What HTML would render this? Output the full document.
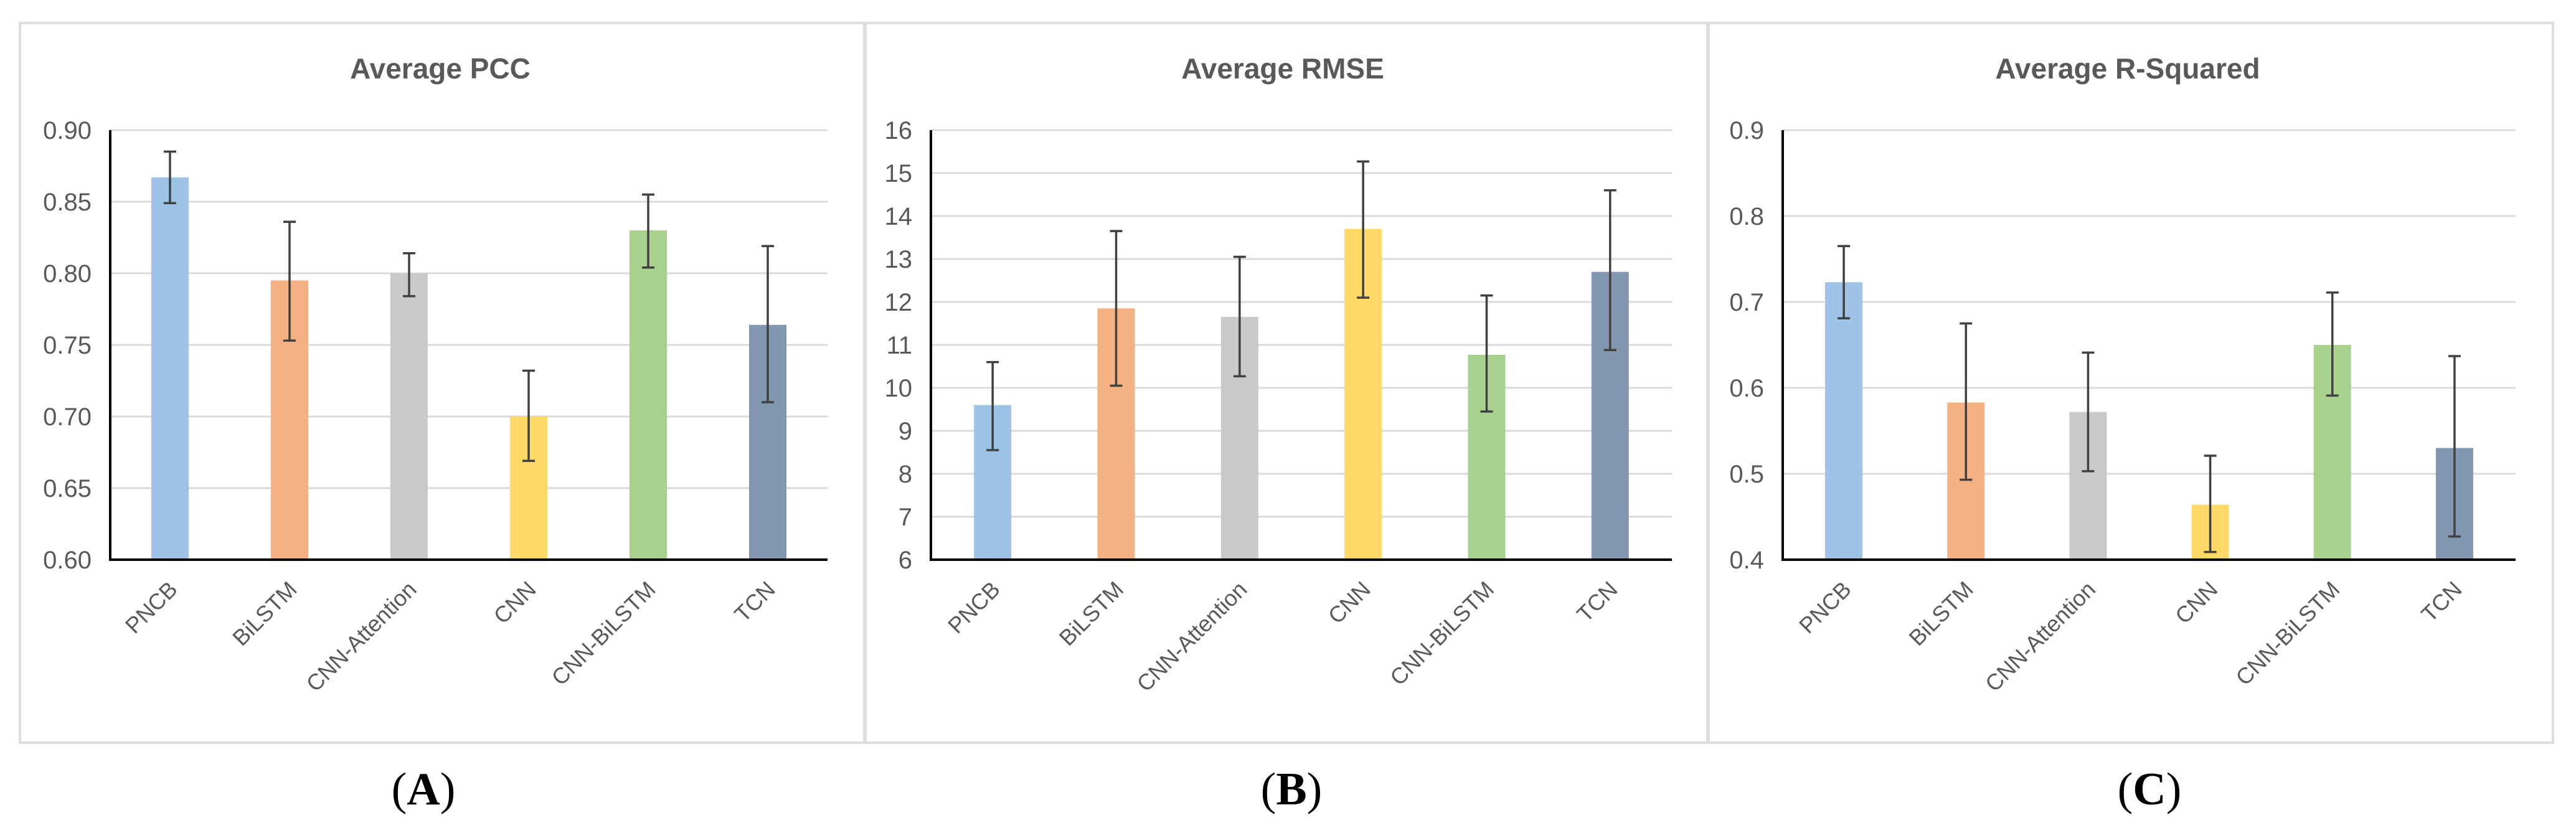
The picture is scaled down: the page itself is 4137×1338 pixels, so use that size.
<!DOCTYPE html>
<html><head><meta charset="utf-8">
<style>
html,body{margin:0;padding:0;background:#fff;}
svg{display:block;}
</style></head>
<body>
<svg id="fig" width="4137" height="1338" viewBox="0 0 4137 1338" xmlns="http://www.w3.org/2000/svg"></svg>
<script>
const categories = ["PNCB","BiLSTM","CNN-Attention","CNN","CNN-BiLSTM","TCN"];
const pccValues = [0.867,0.795,0.800,0.700,0.830,0.764];
const pccLow = [0.849,0.753,0.784,0.669,0.804,0.710];
const pccHigh = [0.885,0.836,0.814,0.732,0.855,0.819];
const pccTicks = ["0.60","0.65","0.70","0.75","0.80","0.85","0.90"];
const rmseValues = [9.6,11.85,11.65,13.7,10.77,12.7];
const rmseLow = [8.55,10.05,10.27,12.1,9.45,10.88];
const rmseHigh = [10.6,13.65,13.05,15.27,12.15,14.6];
const rmseTicks = ["6","7","8","9","10","11","12","13","14","15","16"];
const r2Values = [0.723,0.583,0.572,0.464,0.650,0.530];
const r2Low = [0.681,0.493,0.503,0.409,0.591,0.427];
const r2High = [0.765,0.675,0.641,0.521,0.711,0.637];
const r2Ticks = ["0.4","0.5","0.6","0.7","0.8","0.9"];
const colors = ["#9dc3e6","#f4b183","#c9c9c9","#ffd966","#a9d18e","#8497b0"];

const NS="http://www.w3.org/2000/svg";
const svg=document.getElementById('fig');
function mk(tag,attrs,parent){const e=document.createElementNS(NS,tag);for(const k in attrs)e.setAttribute(k,attrs[k]);(parent||svg).appendChild(e);return e;}

const panels=[
 {id:"pcc",title:"Average PCC",letter:"A",frame:[32,37,1388,1193],ax:[177,1329],min:0.60,max:0.90,ticks:pccTicks,vals:pccValues,lo:pccLow,hi:pccHigh,titleX:707,letterX:680},
 {id:"rmse",title:"Average RMSE",letter:"B",frame:[1390,37,2742,1193],ax:[1495,2685],min:6,max:16,ticks:rmseTicks,vals:rmseValues,lo:rmseLow,hi:rmseHigh,titleX:2060,letterX:2074},
 {id:"r2",title:"Average R-Squared",letter:"C",frame:[2744,37,4100,1193],ax:[2863,4040],min:0.4,max:0.9,ticks:r2Ticks,vals:r2Values,lo:r2Low,hi:r2High,titleX:3417,letterX:3452}
];
const yTop=209, yBot=899;

panels.forEach(p=>{
  const g=mk('g',{});
  
  
  const fr=mk('rect',{x:p.frame[0],y:p.frame[1],width:p.frame[2]-p.frame[0],height:p.frame[3]-p.frame[1],fill:'#fff',stroke:'#dedede','stroke-width':4},g);
  
  
  const t=mk('text',{x:p.titleX,y:126,'text-anchor':'middle','font-family':'"Liberation Sans",sans-serif','font-size':46,'font-weight':'bold',fill:'#595959'},g);
  t.textContent=p.title;
  
  
  const y=v=>yBot-(v-p.min)/(p.max-p.min)*(yBot-yTop);
  p.ticks.forEach(tk=>{
    const v=parseFloat(tk), yy=y(v);
    if(v>p.min){
      const gl=mk('line',{x1:p.ax[0],x2:p.ax[1],y1:yy,y2:yy,stroke:'#d9d9d9','stroke-width':3},g);
      
      
    }
    const tl=mk('text',{x:p.ax[0]-30,y:yy+14,'text-anchor':'end','font-family':'"Liberation Sans",sans-serif','font-size':40,fill:'#595959'},g);
    tl.textContent=tk;
    
    
  });
  const cw=(p.ax[1]-p.ax[0])/categories.length, bw=60;
  categories.forEach((c,i)=>{
    const cx=p.ax[0]+cw*(i+0.5);
    const b=mk('rect',{x:cx-bw/2,y:y(p.vals[i]),width:bw,height:yBot-y(p.vals[i]),fill:colors[i]},g);
    
    
    const eg=mk('g',{stroke:'#404040','stroke-width':3.5},g);
    
    
    mk('line',{x1:cx,x2:cx,y1:y(p.lo[i]),y2:y(p.hi[i])},eg);
    mk('line',{x1:cx-10,x2:cx+10,y1:y(p.lo[i]),y2:y(p.lo[i])},eg);
    mk('line',{x1:cx-10,x2:cx+10,y1:y(p.hi[i]),y2:y(p.hi[i])},eg);
    const xl=mk('text',{x:0,y:0,'text-anchor':'end','font-family':'"Liberation Sans",sans-serif','font-size':36,fill:'#595959',transform:`translate(${cx+14},${yBot+50}) rotate(-45)`},g);
    xl.textContent=c;
    
    
  });
  const ax1=mk('line',{x1:p.ax[0],x2:p.ax[0],y1:yTop,y2:yBot,stroke:'#000','stroke-width':4},g);
  
  
  const ax2=mk('line',{x1:p.ax[0]-2,x2:p.ax[1],y1:yBot,y2:yBot,stroke:'#000','stroke-width':4},g);
  
  
  const lt=mk('text',{x:p.letterX,y:1292,'text-anchor':'middle','font-family':'"Liberation Serif",serif','font-size':74,fill:'#000'},g);
  lt.innerHTML='(<tspan font-weight="bold">'+p.letter+'</tspan>)';
  
  
});
</script>
</body></html>
